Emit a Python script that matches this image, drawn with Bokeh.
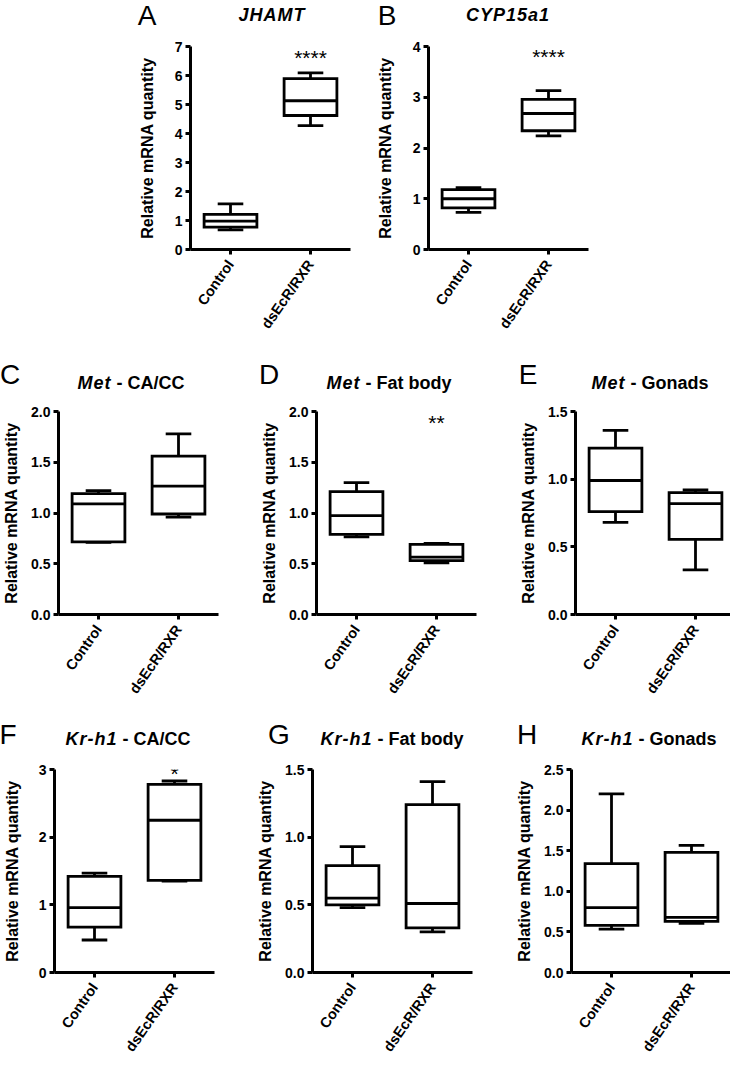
import math
from bokeh.plotting import figure
from bokeh.layouts import column, row
from bokeh.models import (ColumnDataSource, Range1d, FactorRange, FixedTicker,
                          Label, PrintfTickFormatter, Div)
from bokeh.transform import dodge
from bokeh.embed import file_html
from bokeh.resources import INLINE

categories = ["Control", "dsEcR/RXR"]

# five-number summaries: [min, q1, median, q3, max]
jhamt_control = [0.68, 0.77, 0.98, 1.21, 1.57]
jhamt_dsecr = [4.27, 4.62, 5.13, 5.89, 6.09]
cyp15a1_control = [0.73, 0.82, 1.00, 1.18, 1.22]
cyp15a1_dsecr = [2.24, 2.34, 2.68, 2.96, 3.13]
met_cacc_control = [0.71, 0.715, 1.09, 1.19, 1.22]
met_cacc_dsecr = [0.96, 0.99, 1.265, 1.56, 1.78]
met_fat_control = [0.765, 0.79, 0.975, 1.21, 1.30]
met_fat_dsecr = [0.51, 0.53, 0.565, 0.69, 0.70]
met_gonads_control = [0.68, 0.76, 0.99, 1.23, 1.36]
met_gonads_dsecr = [0.33, 0.555, 0.82, 0.90, 0.92]
krh1_cacc_control = [0.48, 0.67, 0.96, 1.42, 1.47]
krh1_cacc_dsecr = [1.35, 1.36, 2.25, 2.78, 2.83]
krh1_fat_control = [0.48, 0.50, 0.55, 0.79, 0.93]
krh1_fat_dsecr = [0.30, 0.33, 0.51, 1.24, 1.41]
krh1_gonads_control = [0.535, 0.58, 0.80, 1.34, 2.20]
krh1_gonads_dsecr = [0.605, 0.63, 0.68, 1.48, 1.565]

panel_letters = ["A", "B", "C", "D", "E", "F", "G", "H"]
genes = ["JHAMT", "CYP15a1", "Met", "Met", "Met", "Kr-h1", "Kr-h1", "Kr-h1"]
tissues = ["", "", "CA/CC", "Fat body", "Gonads", "CA/CC", "Fat body", "Gonads"]
y_max = [7, 4, 2.0, 2.0, 1.5, 3, 1.5, 2.5]
y_step = [1, 1, 0.5, 0.5, 0.5, 1, 0.5, 0.5]
significance = ["****", "****", "", "**", "", "*", "", ""]
y_label = "Relative mRNA quantity"

summaries = [
    (jhamt_control, jhamt_dsecr),
    (cyp15a1_control, cyp15a1_dsecr),
    (met_cacc_control, met_cacc_dsecr),
    (met_fat_control, met_fat_dsecr),
    (met_gonads_control, met_gonads_dsecr),
    (krh1_cacc_control, krh1_cacc_dsecr),
    (krh1_fat_control, krh1_fat_dsecr),
    (krh1_gonads_control, krh1_gonads_dsecr),
]

FONT = "Liberation Sans"
PAGE_W = 730

# figure borders: (left, right, top, bottom, y-label standoff, star dy)
layout = [
    (190, 10, 8, 106, 16, -11),
    (68, 142, 8, 106, 16, -10),
    (52, 11, 11, 101, 8, -11),
    (87, 12, 11, 101, 8, -11),
    (87, 1, 11, 101, 8, -11),
    (52, 11, 9, 84, 15, -4),
    (87, 12, 9, 84, 8, -11),
    (87, 1, 9, 84, 8, -11),
]
# heading strips (height) and, per panel, letter / title centres inside them
strip_h = [38, 45, 45]
letter_pos = [(147, 16), (387, 16), (10, 20), (269, 20), (528, 20),
              (8, 20), (279, 20), (527, 20)]
title_pos = [(272, 15), (508, 15), (131, 28), (389, 28), (650, 28),
             (128, 24), (392, 24), (649, 24)]

FRAME_W = 160
FRAME_H = 203
LW = 2.8


def make_panel(i):
    ctrl, trt = summaries[i]
    bl, br, bt, bb, ystand, sdy = layout[i]
    ymax = y_max[i]
    p = figure(x_range=FactorRange(*categories), y_range=Range1d(0, ymax),
               frame_width=FRAME_W, frame_height=FRAME_H,
               min_border_left=bl, min_border_right=br,
               min_border_top=bt, min_border_bottom=bb,
               toolbar_location=None, output_backend="svg")
    p.outline_line_color = None
    p.background_fill_color = "white"
    p.border_fill_color = "white"
    p.grid.visible = False

    src = ColumnDataSource(dict(
        cat=categories,
        lo=[ctrl[0], trt[0]], q1=[ctrl[1], trt[1]], med=[ctrl[2], trt[2]],
        q3=[ctrl[3], trt[3]], hi=[ctrl[4], trt[4]],
    ))
    seg = dict(line_color="black", line_width=LW, line_cap="butt")
    p.segment(x0="cat", y0="q3", x1="cat", y1="hi", source=src, **seg)
    p.segment(x0="cat", y0="q1", x1="cat", y1="lo", source=src, **seg)
    p.vbar(x="cat", width=0.66, bottom="q1", top="q3", source=src,
           fill_color="white", line_color="black", line_width=LW,
           line_join="miter")
    p.segment(x0=dodge("cat", -0.33, range=p.x_range), y0="med",
              x1=dodge("cat", 0.33, range=p.x_range), y1="med", source=src, **seg)
    p.segment(x0=dodge("cat", -0.16, range=p.x_range), y0="hi",
              x1=dodge("cat", 0.16, range=p.x_range), y1="hi", source=src, **seg)
    p.segment(x0=dodge("cat", -0.16, range=p.x_range), y0="lo",
              x1=dodge("cat", 0.16, range=p.x_range), y1="lo", source=src, **seg)

    for ax in (p.xaxis[0], p.yaxis[0]):
        ax.axis_line_width = 3
        ax.axis_line_color = "black"
        ax.major_tick_line_width = 3
        ax.major_tick_line_color = "black"
        ax.major_tick_out = 5
        ax.major_tick_in = 0
        ax.minor_tick_line_color = None
        ax.major_label_text_font = FONT
        ax.major_label_text_font_style = "bold"
        ax.major_label_text_color = "black"
    step = y_step[i]
    n = int(round(ymax / step))
    p.yaxis.ticker = FixedTicker(ticks=[k * step for k in range(n + 1)])
    p.yaxis.formatter = PrintfTickFormatter(format="%d" if step >= 1 else "%.1f")
    p.yaxis.major_label_text_font_size = "14px"
    p.yaxis.major_label_standoff = 3
    p.yaxis.axis_label = y_label
    p.yaxis.axis_label_text_font = FONT
    p.yaxis.axis_label_text_font_style = "bold"
    p.yaxis.axis_label_text_font_size = "16px"
    p.yaxis.axis_label_text_color = "black"
    p.yaxis.axis_label_standoff = ystand
    p.xaxis.major_label_orientation = math.radians(55)
    p.xaxis.major_label_text_font_size = "14.5px"
    p.xaxis.major_label_standoff = 7

    if significance[i]:
        p.add_layout(Label(x=1.5, y=ymax, y_offset=sdy, text=significance[i],
                           text_font=FONT, text_font_size="21px",
                           text_color="black", text_align="center",
                           text_baseline="middle"))
    return p


def heading_strip(idxs, h):
    parts = [f'<div style="position:relative;width:{PAGE_W}px;height:{h}px;">']
    for i in idxs:
        lx, ly = letter_pos[i]
        parts.append(
            f'<span style="position:absolute;left:{lx}px;top:{ly}px;'
            f'transform:translate(-50%,-50%);line-height:20px;white-space:nowrap;'
            f'font-family:\'{FONT}\';font-size:28px;color:black;">'
            f'{panel_letters[i]}</span>')
        tx, ty = title_pos[i]
        gene_html = f'<i style="letter-spacing:1px;">{genes[i]}</i>'
        txt = gene_html + (f' - {tissues[i]}' if tissues[i] else '')
        parts.append(
            f'<span style="position:absolute;left:{tx}px;top:{ty}px;'
            f'transform:translate(-50%,-50%);line-height:18px;white-space:nowrap;'
            f'font-family:\'{FONT}\';font-weight:bold;font-size:18px;color:black;">'
            f'{txt}</span>')
    parts.append('</div>')
    return Div(text="".join(parts), width=PAGE_W, height=h, margin=0,
               styles={"overflow": "visible"})


panels = [make_panel(i) for i in range(8)]
page = column(
    heading_strip([0, 1], strip_h[0]),
    row(panels[0], panels[1]),
    heading_strip([2, 3, 4], strip_h[1]),
    row(panels[2], panels[3], panels[4]),
    heading_strip([5, 6, 7], strip_h[2]),
    row(panels[5], panels[6], panels[7]),
)

open("out.html", "w").write(file_html(page, INLINE))
